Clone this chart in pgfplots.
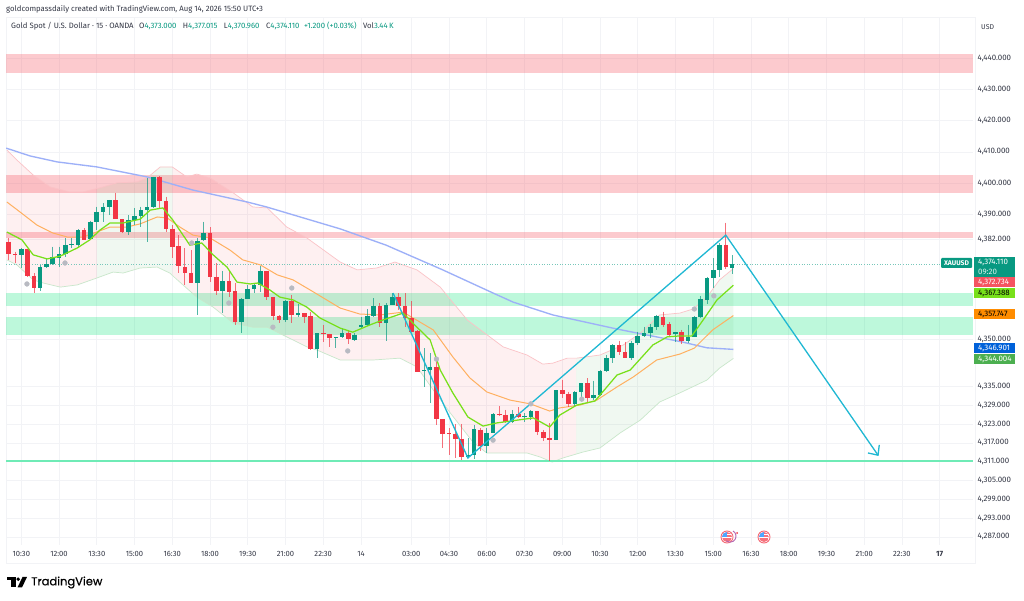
\documentclass[border=0pt]{standalone}
\usepackage{fontspec}
\setmainfont{Fira Sans}
\newfontfamily\logofont[FakeBold=0.5]{Poppins}
\usepackage{pgfplots}
\usepackage{pgfplotstable}
\pgfplotsset{compat=1.18}
\definecolor{upc}{HTML}{089981}
\definecolor{dnc}{HTML}{F23645}
\definecolor{zr}{HTML}{F7525F}
\definecolor{zg}{HTML}{00E676}
\definecolor{zl}{HTML}{6FEBB6}
\definecolor{cy}{HTML}{1FB8D3}
\definecolor{mg}{HTML}{78E01A}
\definecolor{mo}{HTML}{FFB060}
\definecolor{mb}{HTML}{9DB0F8}
\definecolor{mk}{HTML}{B8BAC2}
\definecolor{bg}{HTML}{4CAF50}
\definecolor{txt}{HTML}{333745}
\definecolor{gridc}{HTML}{F2F3F6}
% i top bottom high low
\pgfplotstableread{
i t b h l
0 4379.0 4376.9 4379.2 4372.8
3 4373.3 4366.4 4373.9 4365.4
4 4374.1 4373.3 4376.0 4372.8
5 4376.3 4374.1 4379.7 4373.9
6 4377.3 4376.2 4379.7 4373.1
7 4380.3 4377.3 4382.4 4376.5
8 4380.6 4380.3 4382.4 4379.2
9 4384.9 4380.3 4385.3 4379.2
11 4387.5 4382.1 4388.0 4381.9
12 4390.8 4387.5 4392.5 4385.0
13 4392.5 4390.9 4393.6 4387.7
14 4394.6 4392.5 4394.7 4389.8
17 4388.2 4384.3 4389.8 4383.4
18 4389.5 4388.1 4392.0 4386.6
19 4391.4 4389.5 4392.5 4386.1
20 4392.3 4391.4 4401.6 4381.3
21 4402.0 4392.3 4402.1 4392.2
28 4381.6 4368.2 4382.4 4357.9
29 4384.0 4381.8 4387.7 4381.6
32 4368.7 4365.7 4372.0 4358.4
35 4363.0 4355.6 4363.2 4352.0
36 4366.2 4363.0 4367.5 4363.0
37 4367.4 4366.1 4368.2 4364.8
38 4371.8 4367.4 4373.6 4365.3
42 4362.2 4356.3 4362.7 4355.8
44 4358.4 4358.0 4361.4 4357.4
47 4352.0 4347.1 4352.1 4344.0
50 4350.7 4350.4 4350.8 4347.2
51 4352.0 4350.8 4353.6 4350.4
53 4351.5 4349.9 4352.0 4349.7
54 4354.7 4353.9 4357.4 4353.6
55 4357.7 4354.7 4359.7 4354.4
56 4360.9 4357.7 4363.2 4357.4
58 4361.1 4355.4 4361.6 4349.7
59 4363.5 4361.1 4364.8 4361.0
64 4340.3 4339.9 4347.2 4335.0
65 4341.4 4340.2 4345.6 4329.9
71 4313.1 4312.4 4318.5 4312.1
72 4321.4 4313.2 4322.8 4311.8
74 4320.3 4315.9 4321.7 4313.9
75 4326.1 4320.3 4326.5 4320.1
78 4326.2 4323.7 4327.6 4323.5
80 4325.6 4325.3 4326.5 4323.8
81 4327.1 4325.4 4327.6 4324.2
85 4333.9 4318.0 4334.0 4317.9
88 4333.4 4329.4 4333.5 4328.4
89 4336.1 4333.4 4336.2 4331.3
91 4332.3 4331.5 4336.9 4330.8
92 4340.1 4332.2 4340.3 4332.1
93 4344.2 4340.0 4345.1 4339.8
94 4348.2 4344.3 4348.6 4342.5
97 4348.9 4344.2 4349.7 4343.5
98 4351.2 4348.9 4352.6 4348.3
99 4352.0 4351.2 4354.2 4351.0
100 4354.0 4352.0 4355.0 4350.4
101 4357.6 4354.0 4357.9 4353.1
104 4352.4 4351.9 4352.6 4349.4
106 4350.9 4349.7 4354.7 4349.0
107 4357.1 4350.9 4357.5 4350.8
108 4362.9 4357.1 4364.0 4357.0
109 4369.6 4362.7 4370.1 4361.4
110 4372.2 4369.6 4376.0 4366.4
111 4380.3 4372.2 4380.8 4370.1
113 4374.11 4373.00 4377.02 4370.96
}\upt
\pgfplotstableread{
i t b h l
-2 4381.3 4377.3 4382.4 4375.5
-1 4377.5 4377.0 4378.1 4374.4
1 4379.0 4370.4 4379.1 4369.9
2 4370.4 4366.4 4371.2 4364.8
10 4385.1 4381.9 4385.6 4381.8
15 4394.6 4388.5 4397.0 4388.4
16 4388.5 4384.3 4388.6 4384.0
22 4402.0 4394.3 4402.3 4391.6
23 4394.3 4385.5 4395.7 4384.5
24 4385.5 4379.7 4386.6 4376.0
25 4379.8 4373.5 4383.4 4371.2
26 4373.3 4371.4 4379.2 4367.5
27 4371.4 4368.2 4378.6 4368.0
30 4384.0 4370.1 4385.9 4368.5
31 4370.1 4365.7 4374.4 4364.3
33 4368.7 4365.3 4372.3 4363.7
34 4365.4 4355.6 4368.0 4354.7
39 4371.8 4363.5 4372.0 4362.7
40 4363.5 4357.7 4363.6 4356.3
41 4357.7 4356.3 4357.8 4355.2
43 4362.5 4358.0 4364.3 4355.4
45 4358.4 4357.4 4358.5 4355.2
46 4357.5 4347.0 4358.9 4346.7
48 4352.0 4351.7 4354.7 4349.4
49 4351.8 4350.5 4351.9 4347.8
52 4352.0 4350.1 4353.1 4348.6
57 4360.9 4355.2 4361.6 4354.0
60 4363.5 4360.9 4364.8 4359.5
61 4360.9 4356.8 4364.8 4354.0
62 4356.8 4352.6 4362.2 4352.5
63 4352.7 4339.8 4353.1 4339.7
66 4341.4 4324.6 4344.1 4322.8
67 4324.5 4319.9 4324.6 4315.3
68 4320.1 4319.9 4321.7 4313.2
69 4319.9 4318.4 4323.1 4312.1
70 4318.4 4312.4 4323.1 4311.6
73 4321.3 4315.9 4321.7 4314.3
76 4326.2 4325.9 4328.8 4325.7
77 4326.0 4323.7 4327.6 4323.3
79 4326.3 4325.3 4328.4 4324.9
82 4327.2 4320.4 4327.3 4319.6
83 4320.4 4318.5 4321.2 4317.5
84 4318.5 4318.0 4323.3 4311.1
86 4333.8 4332.8 4337.2 4331.3
87 4332.8 4329.4 4333.4 4328.6
90 4336.0 4331.5 4337.7 4329.7
95 4348.2 4346.1 4349.7 4345.1
96 4346.1 4344.2 4349.4 4344.1
102 4357.4 4354.7 4359.0 4354.2
103 4355.0 4351.6 4355.8 4351.0
105 4352.3 4349.7 4353.1 4348.6
112 4380.3 4373.3 4387.4 4372.5
}\dnt
\pgfplotsset{
  wick/.style={draw=none,mark=none,forget plot,
    error bars/.cd,y dir=minus,y explicit,error mark=none,
    error bar style={line width=0.7pt,color=#1,opacity=0.7}},
  body/.style={draw=none,mark=none,forget plot,
    error bars/.cd,y dir=minus,y explicit,error mark=none,
    error bar style={line width=4.6pt,color=#1}},
}
\newcommand{\lab}[5]{% y1 y2 fill textcolor text ; boxes on the price scale
  \fill[#3] (974,{601-#1}) rectangle (1015,{601-#2});
  \node[anchor=west,inner sep=0,text=#4,font=\fontsize{7.9}{8}\selectfont] at (978,{601-(#1+#2)/2}) {#5};}
\begin{document}
\begin{tikzpicture}[x=1pt,y=1pt]
\path[use as bounding box] (0,0) rectangle (1024,601);
\fill[white] (0,0) rectangle (1024,601);
\draw[gridc,line width=0.5pt] (6,38) rectangle (975,584);
\begin{axis}[
  at={(6pt,56pt)},anchor=south west,
  scale only axis,width=967pt,height=528pt,
  xmin=-2.43,xmax=151.3,ymin=4284.4,ymax=4453.1,
  axis line style={draw=none},
  major tick length=0pt,
  grid=major,grid style={gridc,line width=0.6pt},
  xtick={0,6,12,18,24,30,36,42,48,54,62,68,74,80,86,92,98,104,110,116,122,128,134,140,146},
  xticklabels={10:30,12:00,13:30,15:00,16:30,18:00,19:30,21:00,22:30,14,03:00,04:30,06:00,07:30,09:00,10:30,12:00,13:30,15:00,16:30,18:00,19:30,21:00,22:30,\textbf{17}},
  xticklabel style={font=\fontsize{7.6}{8}\selectfont,text=txt},
  xtick pos=bottom,
  x tick label style={yshift=-2.5pt},
  ytick={4287,4293,4299,4305,4311,4317,4323,4329,4335,4350,4382,4390,4400,4410,4420,4430,4440},
  ytick pos=right,yticklabel pos=right,
  yticklabel style={font=\fontsize{7.9}{8}\selectfont,text=txt,anchor=west,xshift=1pt,
    /pgf/number format/.cd,fixed,fixed zerofill,precision=3,1000 sep={,},assume math mode=true},
  clip=true,
]
% zones
\addplot[fill=zr,fill opacity=0.3,draw=none,forget plot] coordinates {(-2.43,4441.3)(151.3,4441.3)(151.3,4435.2)(-2.43,4435.2)} --cycle;
\addplot[fill=zr,fill opacity=0.3,draw=none,forget plot] coordinates {(-2.43,4402.6)(151.3,4402.6)(151.3,4396.9)(-2.43,4396.9)} --cycle;
\addplot[fill=zr,fill opacity=0.3,draw=none,forget plot] coordinates {(-2.43,4384.5)(151.3,4384.5)(151.3,4382.6)(-2.43,4382.6)} --cycle;
\addplot[fill=zg,fill opacity=0.26,draw=none,forget plot] coordinates {(-2.43,4364.9)(151.3,4364.9)(151.3,4360.8)(-2.43,4360.8)} --cycle;
\addplot[fill=zg,fill opacity=0.26,draw=none,forget plot] coordinates {(-2.43,4357.2)(151.3,4357.2)(151.3,4351.5)(-2.43,4351.5)} --cycle;
% band fill, one polygon per colour run
\addplot[fill=dnc,fill opacity=0.075,draw=none,forget plot] coordinates {
(-2.3,4410.6)(-0.7,4407.4)(1.9,4402.6)(4.6,4398.8)(7.7,4397.2)(9.8,4397.2)(12,4398.3)
(12,4369.7)(8.9,4367.5)(6.2,4366.8)(3.5,4368.1)(1.9,4369.1)(-0.7,4373.9)(-2.3,4375.5)} --cycle;
\addplot[fill=bg,fill opacity=0.08,draw=none,forget plot] coordinates {
(12,4398.3)(12.5,4398.5)(15.2,4400.1)(18.4,4400.4)(20,4401.7)(22.1,4405.2)(24,4405.2)
(24,4370.9)(23.6,4371.3)(21.6,4373.2)(18.9,4372.9)(16.2,4371.3)(14.6,4371.6)(12,4369.7)} --cycle;
\addplot[fill=dnc,fill opacity=0.075,draw=none,forget plot] coordinates {
(24,4405.2)(26.3,4402.0)(27.9,4402.9)(30,4401.7)(33.7,4396.9)(36.8,4392.4)(39.1,4392.1)(42.2,4386.0)(45.4,4382.5)(50.7,4374.8)(53.4,4372.3)(56.5,4372.9)(59.4,4374.8)(62.9,4372.3)(66.6,4366.8)(70.9,4356.3)(76.6,4347.7)(80.4,4345.1)(82.9,4342.2)(84.5,4342.5)(86.8,4344.1)(88.2,4344.1)
(88.2,4313.5)(86.1,4312.2)(84.4,4310.9)(82.5,4312.5)(80.4,4313.8)(74,4313.8)(71.8,4317.3)(68.2,4326.6)(65.5,4333.9)(62.9,4341.3)(60.2,4344.1)(55.9,4343.5)(50.7,4343.5)(47,4346.7)(45.4,4347.7)(42.2,4350.9)(39.1,4354.0)(36.8,4354.0)(33.7,4355.3)(30.5,4360.4)(27.9,4363.6)(25.7,4367.5)(24,4370.9)} --cycle;
\addplot[fill=bg,fill opacity=0.08,draw=none,forget plot] coordinates {
(88.2,4344.1)(92,4345.1)(95.7,4348.3)(98.4,4352.1)(101.5,4357.9)(104.7,4358.5)(106.8,4359.8)(109,4363.6)(111,4369.1)(113.2,4372.7)
(113.2,4344.0)(111,4340.9)(109,4337.1)(104.7,4333.0)(101.5,4330.1)(98.4,4324.3)(95.2,4320.2)(92,4315.4)(89.3,4314.1)(88.2,4313.5)} --cycle;
% band edges
\addplot[color=dnc!30!white,line width=0.7pt,forget plot] coordinates {
(-2.3,4410.6)(-0.7,4407.4)(1.9,4402.6)(4.6,4398.8)(7.7,4397.2)(9.8,4397.2)(12.5,4398.5)(15.2,4400.1)(18.4,4400.4)(20,4401.7)(22.1,4405.2)(24,4405.2)(26.3,4402.0)(27.9,4402.9)(30,4401.7)(33.7,4396.9)(36.8,4392.4)(39.1,4392.1)(42.2,4386.0)(45.4,4382.5)(50.7,4374.8)(53.4,4372.3)(56.5,4372.9)(59.4,4374.8)(62.9,4372.3)(66.6,4366.8)(70.9,4356.3)(76.6,4347.7)(80.4,4345.1)(82.9,4342.2)(84.5,4342.5)(86.8,4344.1)(88.3,4344.1)(92,4345.1)(95.7,4348.3)(98.4,4352.1)(101.5,4357.9)(104.7,4358.5)(106.8,4359.8)(109,4363.6)(111,4369.1)(113.2,4372.7)};
\addplot[color=bg!30!white,line width=0.7pt,forget plot] coordinates {
(-2.3,4375.5)(-0.7,4373.9)(1.9,4369.1)(3.5,4368.1)(6.2,4366.8)(8.9,4367.5)(12,4369.7)(14.6,4371.6)(16.2,4371.3)(18.9,4372.9)(21.6,4373.2)(23.6,4371.3)(25.7,4367.5)(27.9,4363.6)(30.5,4360.4)(33.7,4355.3)(36.8,4354.0)(39.1,4354.0)(42.2,4350.9)(45.4,4347.7)(47,4346.7)(50.7,4343.5)(55.9,4343.5)(60.2,4344.1)(62.9,4341.3)(65.5,4333.9)(68.2,4326.6)(71.8,4317.3)(74,4313.8)(80.4,4313.8)(82.5,4312.5)(84.4,4310.9)(86.1,4312.2)(89.3,4314.1)(92,4315.4)(95.2,4320.2)(98.4,4324.3)(101.5,4330.1)(104.7,4333.0)(109,4337.1)(111,4340.9)(113.2,4344.0)};
% support line and last price
\addplot[color=zl,line width=1.3pt,forget plot] coordinates {(-2.43,4311.2)(151.3,4311.2)};
\addplot[color=upc!55!white,line width=0.6pt,dotted,forget plot] coordinates {(-2.43,4374.11)(151.3,4374.11)};
% blue
\addplot[color=mb,line width=1.35pt,forget plot] coordinates {
(-2.4,4411.2)(1.4,4408.7)(5.7,4406.8)(12,4405.2)(20,4402.0)(27.3,4397.8)(35.9,4394.0)(39,4392.4)(50.7,4385.4)(58,4380.2)(67,4372.3)(75,4364.9)(78.2,4362.0)(84.5,4357.9)(94.7,4353.4)(105,4349.3)(109,4347.4)(113.2,4346.9)};
% orange
\addplot[color=mo,line width=1pt,forget plot] coordinates {
(-2.3,4394.0)(-0.2,4390.8)(2.5,4386.6)(5,4384.1)(7.3,4382.8)(9.8,4382.8)(12,4384.4)(14.1,4386.0)(16.8,4386.0)(18.9,4387.0)(21.6,4389.2)(23.2,4388.9)(25.2,4386.0)(27.3,4383.4)(30,4382.5)(33.2,4378.6)(35.2,4375.5)(38,4373.9)(40.7,4370.7)(43.2,4369.1)(45.9,4365.9)(50.7,4360.1)(53.8,4358.2)(57,4357.9)(60.7,4358.8)(63.4,4355.6)(65.5,4353.1)(68.6,4344.5)(71.3,4337.8)(74,4333.3)(77.7,4330.7)(80.9,4329.5)(84,4327.2)(85.6,4328.2)(88.8,4329.1)(91.5,4330.7)(94.7,4334.9)(97.3,4338.1)(101,4343.5)(104.7,4345.4)(107,4347.3)(109.9,4353.1)(113.2,4357.7)};
% gray markers
\addplot[only marks,mark=*,mark size=2.4pt,color=mk,mark options={fill=mk,draw=mk},forget plot] coordinates {
(6.95,4374.5)(0.9,4367.8)(27.1,4380.9)(33,4361.7)(43,4366.5)(40,4354.0)(51.9,4346.4)(66,4343.8)(75,4317.9)(81,4329.5)(89.1,4331.0)(107,4359.8)(110.1,4364.0)};
% candles
\addplot[wick=upc] table[x=i,y=h,y error minus expr=\thisrow{h}-\thisrow{l}] {\upt};
\addplot[wick=dnc] table[x=i,y=h,y error minus expr=\thisrow{h}-\thisrow{l}] {\dnt};
\addplot[body=upc] table[x=i,y=t,y error minus expr=\thisrow{t}-\thisrow{b}] {\upt};
\addplot[body=dnc] table[x=i,y=t,y error minus expr=\thisrow{t}-\thisrow{b}] {\dnt};
% green line
\addplot[color=mg,line width=1.25pt,forget plot] coordinates {
(-2.3,4384.4)(0.1,4381.9)(1.9,4377.1)(4.1,4375.8)(6.2,4376.7)(8.9,4379.3)(10.9,4381.9)(12.5,4385.0)(14.1,4387.3)(16.2,4387.3)(18.9,4388.5)(20.5,4391.4)(22.5,4392.1)(24.1,4388.2)(26.8,4380.2)(28.7,4380.9)(30.5,4377.1)(32.7,4373.2)(34.3,4368.4)(36.4,4367.8)(37.6,4368.1)(39.5,4365.9)(41.1,4363.6)(43.2,4362.7)(45.4,4360.4)(47.5,4356.9)(50.7,4353.7)(52.7,4352.4)(55.4,4354.7)(57.5,4356.3)(60.7,4358.5)(62.9,4354.0)(65,4349.9)(66.6,4340.3)(68.6,4333.0)(71,4325.3)(73.4,4322.4)(75.6,4323.4)(81.4,4325.0)(84,4322.1)(85.6,4325.9)(88.3,4329.1)(91.2,4330.4)(93.1,4334.9)(94.7,4338.7)(96.8,4340.3)(100.4,4348.3)(102.7,4350.9)(104.7,4351.2)(106.6,4351.2)(108.4,4356.3)(110.6,4362.7)(113.2,4367.4)};
% zigzag
\addplot[color=cy,line width=1.3pt,forget plot] coordinates {(59.1,4364.9)(71,4312.2)(112,4383.4)(136.2,4313.1)};
\addplot[color=cy,line width=1.3pt,forget plot] coordinates {(134.6,4313.8)(136.2,4313.1)(136.4,4316.4)};
\end{axis}
% price scale boxes
\fill[upc,rounded corners=1pt] (941,333) rectangle (972,343);
\node[text=white,font=\fontsize{6.8}{7}\selectfont\bfseries,inner sep=0] at (956.5,338) {XAUUSD};
\fill[upc] (974,324) rectangle (1015,344);
\node[anchor=west,inner sep=0,text=white,font=\fontsize{7.9}{8}\selectfont] at (978,338.5) {4,374.110};
\node[anchor=west,inner sep=0,text=white!85!upc,font=\fontsize{7.9}{8}\selectfont] at (978,329) {09:20};
\lab{277.5}{287.5}{dnc!85!white}{white}{4,372.734}
\lab{288}{298}{mg}{black}{4,367.388}
\lab{309}{319}{orange!90!yellow}{black}{4,357.747}
\lab{343}{353}{blue!55!cyan!85!black}{white}{4,346.901}
\lab{354}{364}{bg}{white}{4,344.004}
% header
\node[anchor=west,inner sep=0,text=txt,font=\fontsize{7.75}{9}\selectfont] at (6,592) {goldcompassdaily created with TradingView.com, Aug 14, 2026 15:50 UTC+3};
\node[anchor=west,inner sep=0,text=txt,font=\fontsize{7.75}{9}\selectfont] at (11,575) {Gold Spot / U.S. Dollar · 15 · OANDA\hspace{3.5pt} O\textcolor{upc}{4,373.000}\hspace{4.5pt} H\textcolor{upc}{4,377.015}\hspace{4.5pt} L\textcolor{upc}{4,370.960}\hspace{4.5pt} C\textcolor{upc}{4,374.110}\hspace{4.5pt}\textcolor{upc}{+1.200 (+0.03\%)}\hspace{4.5pt} Vol\textcolor{upc}{3.44\,K}};
\node[anchor=west,inner sep=0,text=txt,font=\fontsize{7}{8}\selectfont] at (981,574) {USD};
% event icons
\foreach \cx in {727,764}{
  \fill[white] (\cx,64) circle (6.5);
  \begin{scope}
    \clip (\cx,64) circle (5);
    \fill[dnc!70!white] (\cx-5,59) rectangle (\cx+5,69);
    \fill[white] (\cx-5,62.5) rectangle (\cx+5,64);
    \fill[white] (\cx-5,65.5) rectangle (\cx+5,67);
    \fill[blue!50!cyan!70!white] (\cx-5,64) rectangle (\cx,69);
  \end{scope}
  \draw[dnc!75!white,line width=0.9pt] (\cx,64) circle (6);
}
\draw[violet!60!white,line width=0.9pt] (733,70) arc (60:-130:6);
\fill[dnc] (737,68) circle (1);
% logo
\fill[black] (7,24) rectangle (15.5,20.5);
\fill[black] (11,24) rectangle (15.5,13.5);
\fill[black] (18.2,21.8) circle (1.9);
\fill[black] (22.5,24) -- (27,24) -- (22,13.5) -- (17.5,13.5) -- cycle;
\node[anchor=west,inner sep=0,text=black,font=\fontsize{11.5}{13}\logofont] at (31,18.5) {TradingView};
\end{tikzpicture}
\end{document}
